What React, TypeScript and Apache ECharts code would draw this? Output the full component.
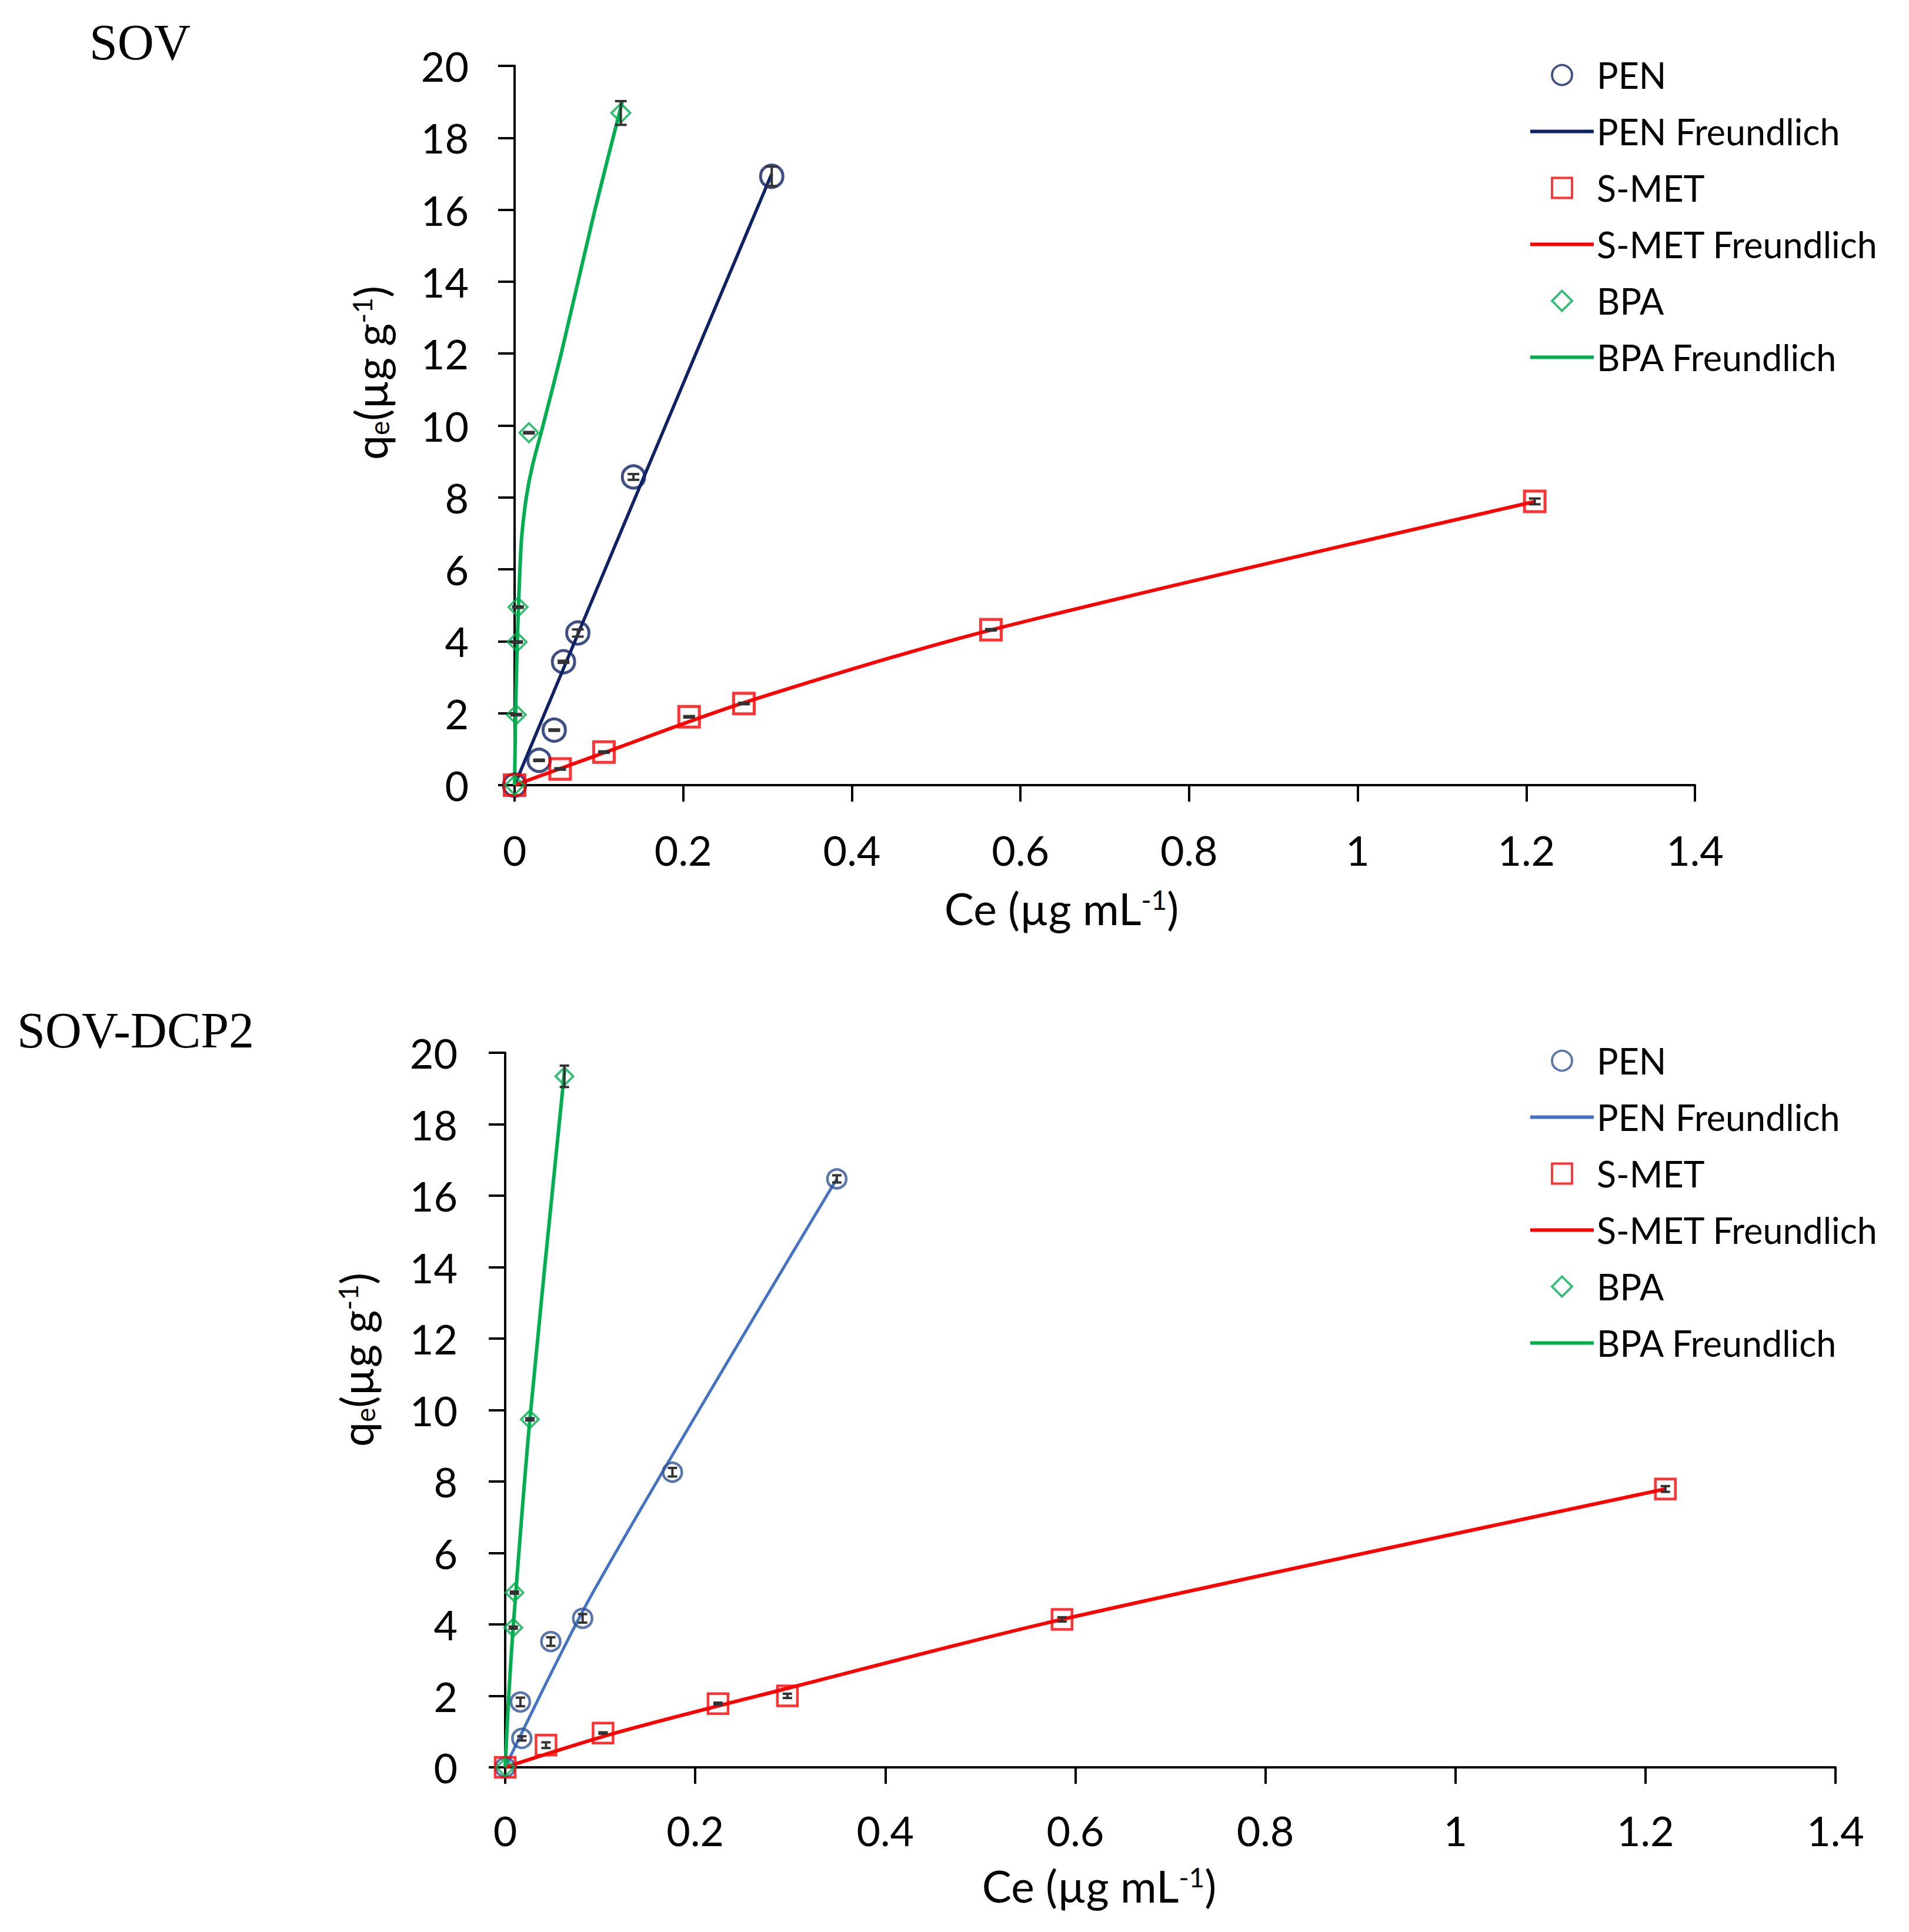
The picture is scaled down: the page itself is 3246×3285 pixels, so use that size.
import React, { useEffect, useRef } from "react";
import * as echarts from "echarts";

// ---------------- Axis ticks ----------------
const xTicks = [0, 0.2, 0.4, 0.6, 0.8, 1, 1.2, 1.4];
const yTicks = [0, 2, 4, 6, 8, 10, 12, 14, 16, 18, 20];

// ---------------- Panel titles / legend labels ----------------
const panelTitles = ["SOV", "SOV-DCP2"];
const legendLabels = ["PEN", "PEN Freundlich", "S-MET", "S-MET Freundlich", "BPA", "BPA Freundlich"];

// ---------------- SOV (top) ----------------
const sovPenCe = [0, 0.029, 0.047, 0.058, 0.075, 0.141, 0.305];
const sovPenQe = [0, 0.69, 1.53, 3.43, 4.23, 8.57, 16.93];
const sovPenErr = [0, 0.02, 0.02, 0.03, 0.1, 0.08, 0.27];
const sovPenFitCe = [0, 0.153, 0.305];
const sovPenFitQe = [0, 8.55, 17.0];

const sovSmetCe = [0, 0.054, 0.106, 0.207, 0.272, 0.565, 1.21];
const sovSmetQe = [0, 0.45, 0.92, 1.9, 2.27, 4.32, 7.89];
const sovSmetErr = [0, 0.02, 0.02, 0.02, 0.02, 0.02, 0.08];
const sovSmetFitCe = [0, 0.106, 0.273, 0.566, 1.211];
const sovSmetFitQe = [0, 0.9, 2.3, 4.32, 7.89];

const sovBpaCe = [0, 0.002, 0.003, 0.004, 0.017, 0.126];
const sovBpaQe = [0, 1.96, 3.98, 4.95, 9.8, 18.69];
const sovBpaErr = [0, 0.02, 0.02, 0.02, 0.02, 0.33];
const sovBpaFitCe = [0, 0.0012, 0.0032, 0.0063, 0.0086, 0.0139, 0.0209, 0.0337, 0.0553, 0.0953, 0.128];
const sovBpaFitQe = [0, 2, 4, 6, 6.95, 8, 8.86, 10, 12, 16, 19.03];

// ---------------- SOV-DCP2 (bottom) ----------------
const dcpPenCe = [0, 0.0175, 0.016, 0.048, 0.0815, 0.176, 0.349];
const dcpPenQe = [0, 0.81, 1.83, 3.52, 4.17, 8.26, 16.47];
const dcpPenErr = [0, 0.06, 0.12, 0.12, 0.12, 0.12, 0.1];
const dcpPenFitCe = [0, 0.0935, 0.349];
const dcpPenFitQe = [0, 4.95, 16.47];

const dcpSmetCe = [0, 0.043, 0.103, 0.224, 0.297, 0.586, 1.221];
const dcpSmetQe = [0, 0.62, 0.96, 1.78, 2.0, 4.14, 7.79];
const dcpSmetErr = [0, 0.08, 0.02, 0.03, 0.06, 0.06, 0.08];
const dcpSmetFitCe = [0, 0.116, 0.297, 0.586, 1.221];
const dcpSmetFitQe = [0, 0.96, 2.21, 4.14, 7.79];

const dcpBpaCe = [0, 0.0085, 0.0097, 0.026, 0.0623];
const dcpBpaQe = [0, 3.91, 4.89, 9.74, 19.34];
const dcpBpaErr = [0, 0.03, 0.03, 0.03, 0.3];
const dcpBpaFitCe = [0, 0.0033, 0.0085, 0.026, 0.0625];
const dcpBpaFitQe = [0, 1.78, 3.95, 9.74, 19.5];

// ---------------- Colours ----------------
const sovPenColor = "#0f2266";
const dcpPenLine = "#4472c4";
const dcpPenMarker = "#2f5597";
const red = "#ff0000";
const green = "#00b050";
const FONT = "Lato";

const pairs = (xs: number[], ys: number[]) => xs.map((x, i) => [x, ys[i]]);
const triples = (xs: number[], ys: number[], es: number[]) => xs.map((x, i) => [x, ys[i], es[i]]);

function makeErrRender(hw: number) {
  return (params: any, api: any) => {
    const x = api.value(0);
    const y = api.value(1);
    const e = api.value(2);
    if (!e) return null;
    const top = api.coord([x, y + e]);
    const bot = api.coord([x, y - e]);
    const cx = top[0];
    const style = { stroke: "#333333", lineWidth: 4 };
    return {
      type: "group",
      children: [
        { type: "line", shape: { x1: cx, y1: top[1], x2: cx, y2: bot[1] }, style },
        { type: "line", shape: { x1: cx - hw, y1: top[1], x2: cx + hw, y2: top[1] }, style },
        { type: "line", shape: { x1: cx - hw, y1: bot[1], x2: cx + hw, y2: bot[1] }, style },
      ],
    };
  };
}

function panelSeries(
  prefix: string,
  idx: number,
  d: {
    penColor: string; penMarker: string; penLineW: number;
    pen: number[][]; penFit: number[][]; penErr: number[][];
    smet: number[][]; smetFit: number[][]; smetErr: number[][];
    bpa: number[][]; bpaFit: number[][]; bpaErr: number[][];
    circle: number; square: number; diamond: number; capHw: number; bpaSmooth: number; mw: number;
  }
) {
  const ax = { xAxisIndex: idx, yAxisIndex: idx };
  const scatter = (name: string, data: number[][], symbol: string, size: number, color: string, bw: number) => ({
    type: "scatter", name: prefix + "|" + name, ...ax, data, symbol, symbolSize: size, z: 3,
    itemStyle: { color: "rgba(255,255,255,0)", borderColor: color, borderWidth: bw },
  });
  const line = (name: string, data: number[][], color: string, width: number, smooth: number) => ({
    type: "line", name: prefix + "|" + name, ...ax, data, symbol: "none", z: 2,
    smooth,
    lineStyle: { color, width }, itemStyle: { color },
  });
  const err = (data: number[][]) => ({
    type: "custom", ...ax, data, z: 4, clip: false, silent: true,
    encode: { x: 0, y: 1 }, renderItem: makeErrRender(d.capHw),
  });
  return [
    line("PEN Freundlich", d.penFit, d.penColor, d.penLineW, 0.3),
    line("S-MET Freundlich", d.smetFit, red, 6, 0.3),
    line("BPA Freundlich", d.bpaFit, green, 6, d.bpaSmooth),
    scatter("PEN", d.pen, "circle", d.circle, d.penMarker, d.mw),
    scatter("S-MET", d.smet, "rect", d.square, red, d.mw),
    scatter("BPA", d.bpa, "diamond", d.diamond, green, 3.8),
    err(d.penErr),
    err(d.smetErr),
    err(d.bpaErr),
  ];
}

function axisPair(idx: number, xMargin: number, yMargin: number) {
  const base = {
    type: "value",
    gridIndex: idx,
    splitLine: { show: false },
    axisLine: { show: true, onZero: false, lineStyle: { color: "#000", width: 4 } },
    axisTick: { show: true, length: 28, lineStyle: { color: "#000", width: 4 } },
  };
  return {
    x: {
      ...base,
      min: xTicks[0], max: xTicks[xTicks.length - 1], interval: xTicks[1] - xTicks[0],
      axisLabel: { color: "#000", fontFamily: FONT, fontSize: 70, margin: xMargin },
    },
    y: {
      ...base,
      min: yTicks[0], max: yTicks[yTicks.length - 1], interval: yTicks[1] - yTicks[0],
      axisLabel: { color: "#000", fontFamily: FONT, fontSize: 70, margin: yMargin },
    },
  };
}

const SQUARE_ICON = "path://M0 0H10V10H0Z";
const DIAMOND_ICON = "path://M5 0L10 5L5 10L0 5Z";
const LINE_ICON = "path://M0 0H108V6H0Z";

function legendFor(prefix: string, top: number) {
  const icons = ["circle", LINE_ICON, SQUARE_ICON, LINE_ICON, DIAMOND_ICON, LINE_ICON];
  return {
    orient: "vertical", left: 2597, top,
    itemWidth: 108, itemHeight: 34, itemGap: 35,
    selectedMode: false,
    symbolKeepAspect: true,
    data: legendLabels.map((l, i) => ({
      name: prefix + "|" + l,
      icon: icons[i],
      itemStyle: icons[i] === LINE_ICON ? { borderWidth: 0 } : { borderWidth: 3.8 },
    })),
    formatter: (n: string) => n.split("|")[1],
    textStyle: { fontFamily: FONT, fontSize: 61, lineHeight: 61, color: "#000" },
  };
}

const richAxis = {
  a: { fontFamily: FONT, fontSize: 75, lineHeight: 75, fill: "#000", verticalAlign: "middle" },
  s: { fontFamily: FONT, fontSize: 46, lineHeight: 46, fill: "#000", verticalAlign: "top" },
  e: { fontFamily: FONT, fontSize: 46, lineHeight: 46, fill: "#000", verticalAlign: "bottom" },
};

function axisNames(xc: number, xy: number, yc: number, yx: number) {
  return [
    {
      type: "text", x: xc, y: xy, z: 10,
      style: { text: "{a|Ce (µg mL}{s|-1}{a|)}", rich: richAxis, align: "center", verticalAlign: "middle" },
    },
    {
      type: "text", x: yx, y: yc, rotation: Math.PI / 2, z: 10,
      style: { text: "{a|q}{e|e}{a|(µg g}{s|-1}{a|)}", rich: richAxis, align: "center", verticalAlign: "middle" },
    },
  ];
}

export default function App() {
  const ref = useRef<HTMLDivElement>(null);
  useEffect(() => {
    document.body.style.margin = "0";
    document.body.style.overflow = "hidden";
    if (!ref.current) return;
    const chart = echarts.init(ref.current, undefined, { renderer: "svg" });
    const a0 = axisPair(0, 75, 78);
    const a1 = axisPair(1, 72, 81);
    const option: any = {
      animation: false,
      backgroundColor: "#fff",
      grid: [
        { left: 875, top: 112, width: 2007, height: 1223, containLabel: false },
        { left: 859, top: 1790, width: 2262, height: 1215, containLabel: false },
      ],
      xAxis: [a0.x, a1.x],
      yAxis: [a0.y, a1.y],
      legend: [legendFor("SOV", 92), legendFor("DCP", 1768)],
      series: [
        ...panelSeries("SOV", 0, {
          penColor: sovPenColor, penMarker: sovPenColor, penLineW: 5.5,
          pen: pairs(sovPenCe, sovPenQe), penFit: pairs(sovPenFitCe, sovPenFitQe),
          penErr: triples(sovPenCe, sovPenQe, sovPenErr),
          smet: pairs(sovSmetCe, sovSmetQe), smetFit: pairs(sovSmetFitCe, sovSmetFitQe),
          smetErr: triples(sovSmetCe, sovSmetQe, sovSmetErr),
          bpa: pairs(sovBpaCe, sovBpaQe), bpaFit: pairs(sovBpaFitCe, sovBpaFitQe),
          bpaErr: triples(sovBpaCe, sovBpaQe, sovBpaErr),
          circle: 38, square: 35, diamond: 32, capHw: 10, bpaSmooth: 0.25, mw: 5,
        }),
        ...panelSeries("DCP", 1, {
          penColor: dcpPenLine, penMarker: dcpPenMarker, penLineW: 5,
          pen: pairs(dcpPenCe, dcpPenQe), penFit: pairs(dcpPenFitCe, dcpPenFitQe),
          penErr: triples(dcpPenCe, dcpPenQe, dcpPenErr),
          smet: pairs(dcpSmetCe, dcpSmetQe), smetFit: pairs(dcpSmetFitCe, dcpSmetFitQe),
          smetErr: triples(dcpSmetCe, dcpSmetQe, dcpSmetErr),
          bpa: pairs(dcpBpaCe, dcpBpaQe), bpaFit: pairs(dcpBpaFitCe, dcpBpaFitQe),
          bpaErr: triples(dcpBpaCe, dcpBpaQe, dcpBpaErr),
          circle: 32, square: 34, diamond: 30, capHw: 8, bpaSmooth: 0.3, mw: 4.5,
        }),
      ],
      graphic: [
        {
          type: "text", x: 152, y: 72,
          style: { text: panelTitles[0], fontFamily: "Liberation Serif", fontSize: 86, fill: "#000", align: "left", verticalAlign: "middle" },
        },
        {
          type: "text", x: 29, y: 1752,
          style: { text: panelTitles[1], fontFamily: "Liberation Serif", fontSize: 86, fill: "#000", align: "left", verticalAlign: "middle" },
        },
        ...axisNames(1805, 1544, 634, 630),
        ...axisNames(1869, 3206, 2312, 606),
      ],
    };
    chart.setOption(option);
    return () => chart.dispose();
  }, []);
  return <div ref={ref} style={{ width: 3246, height: 3285 }} />;
}
